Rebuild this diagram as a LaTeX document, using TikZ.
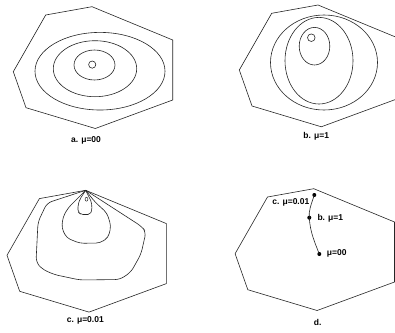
\documentclass[tikz,border=0pt]{standalone}
\usepackage{fontspec}
\setmainfont{Liberation Sans}
\begin{document}
\begin{tikzpicture}[x=1pt,y=-1pt,
  contour/.style={line width=0.6pt,draw=black!85},
  captext/.style={font=\fontsize{8.5}{10}\selectfont\bfseries,inner sep=0pt},
  dlabel/.style={font=\fontsize{8.5}{10}\selectfont\bfseries,inner sep=0pt},
  dot/.style={circle,fill=black,inner sep=0pt,minimum size=4pt}]
\clip (0,0) rectangle (395,332);
\fill[white] (0,0) rectangle (395,332);
\tikzset{hexa/.pic={\draw[contour] (45.7,15) -- (92,6.7) -- (172.7,40) -- (172.7,100) -- (95.3,128.5) -- (26,107.7) -- (13.3,71.7) -- cycle;}}
% panel a
\pic at (0,0) {hexa};
\draw[contour] (100,71.2) ellipse [x radius=65,y radius=38.8];
\draw[contour] (95,68.7) ellipse [x radius=41.7,y radius=28];
\draw[contour] (94.5,65) ellipse [x radius=20.5,y radius=15];
\draw[contour] (92.2,64.6) circle [radius=3.6];
\node[captext] (capa) at (86,140.7) {a. μ=00};
% panel b
\pic at (226,-1.7) {hexa};
\draw[contour] (324,62.5) ellipse [x radius=53.5,y radius=47.5];
\draw[contour] (319,60.7) ellipse [x radius=34,y radius=43.3];
\draw[contour] (314.5,46.2) ellipse [x radius=15.3,y radius=18.8];
\draw[contour] (311.3,37.7) circle [radius=3.8];
\node[captext] (capb) at (316.2,136.7) {b. μ=1};
% panel c
\pic at (-6.3,183.6) {hexa};
\coordinate (apex) at (85.7,190.3);
\draw[contour,rounded corners=5pt] (apex) -- (47,203) -- (38,222) -- (36,262) -- (42,269) -- (54,274.5) -- (80,280) -- (120,279.5) -- (131,272) -- (141,254) -- (146,232) -- (141.7,226.5) -- (apex);
\draw[contour,rounded corners=4pt] (apex) -- (68,208) -- (63,217) -- (61.7,228) -- (66.7,238) -- (80,243.3) -- (100,243) -- (108.3,237.5) -- (111,226) -- (107,213) -- (95,202) -- (apex);
\draw[contour,rounded corners=2pt] (apex) -- (80,199) -- (78,205) -- (78,212) -- (81,214.5) -- (90,214.5) -- (92,210) -- (91.5,202) -- (apex);
\draw[contour,line width=0.5pt] (86.5,199.2) ellipse [x radius=1.4,y radius=2];
\node[captext] (capc) at (85.3,320.3) {c. μ=0.01};
% panel d
\pic at (221.8,182) {hexa};
\node[dot] (p1) at (314.3,195) {};
\node[dot] (p2) at (309.3,217.7) {};
\node[dot] (p3) at (319.3,254) {};
\draw[contour] (p1.center) .. controls (311,205) and (308.5,211) .. (p2.center) .. controls (310,232) and (315,243) .. (p3.center);
\node[dlabel,anchor=east] (lc) at (309.5,202.3) {c. μ=0.01};
\node[dlabel,anchor=west] (lb) at (317.3,218.3) {b. μ=1};
\node[dlabel,anchor=west] (la) at (326.7,253.3) {μ=00};
\node[captext] (capd) at (317.7,322.7) {d.};
\end{tikzpicture}
\end{document}
